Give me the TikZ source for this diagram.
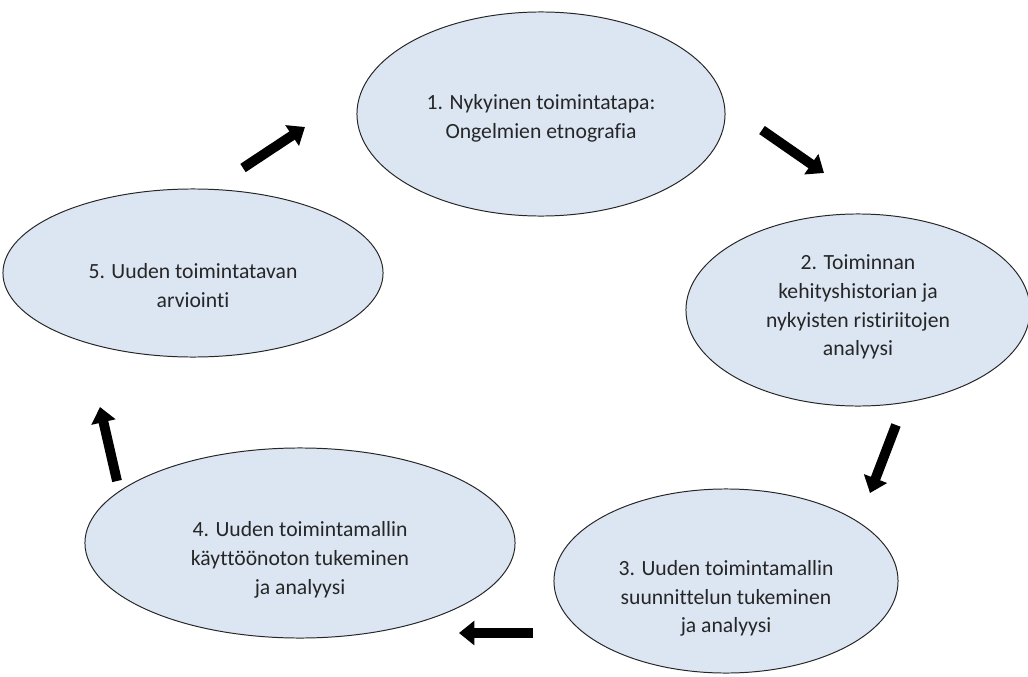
\documentclass[tikz,border=0pt]{standalone}
\usepackage{fontspec}
\setmainfont{Carlito}[Ligatures=NoCommon]
\usetikzlibrary{shapes.geometric,arrows.meta}
\definecolor{phasefill}{RGB}{220,230,243}

\begin{document}
\begin{tikzpicture}[x=0.025cm,y=-0.025cm,
    phase/.style={ellipse, draw=black!85, fill=phasefill, line width=0.7pt, inner sep=0pt},
    phasetext/.style={align=center, inner sep=0pt, text=black!85, font=\fontsize{15.4}{20.4}\selectfont},
    cyclearrow/.style={line width=7pt, -{Triangle[width=17pt,length=11pt]}}]
                \useasboundingbox (0,0) rectangle (1028,677);
                \node[phase, minimum width=9.2cm, minimum height=5.1cm] (p1) at (541,114) {};
                \node[phase, minimum width=8.6cm, minimum height=4.8cm] (p2) at (858,310) {};
                \node[phase, minimum width=8.6cm, minimum height=4.6cm] (p3) at (726,581) {};
                \node[phase, minimum width=10.75cm, minimum height=4.75cm] (p4) at (300,543) {};
                \node[phase, minimum width=9.5cm, minimum height=4.2cm] (p5) at (193,273) {};
                \node[phasetext] (t1) at ([yshift=-3pt]p1.center) {1. Nykyinen toimintatapa:\\Ongelmien etnografia};
                \node[phasetext] (t2) at ([yshift=2pt]p2.center) {2. Toiminnan\\kehityshistorian ja\\nykyisten ristiriitojen\\analyysi};
                \node[phasetext] (t3) at ([yshift=-12.5pt]p3.center) {3. Uuden toimintamallin\\suunnittelun tukeminen\\ja analyysi};
                \node[phasetext] (t4) at ([yshift=-12pt]p4.center) {4. Uuden toimintamallin\\käyttöönoton tukeminen\\ja analyysi};
                \node[phasetext] (t5) at ([yshift=-9pt]p5.center) {5. Uuden toimintatavan\\arviointi};
                % arrow ends
                \coordinate (a1s) at (243,168); \coordinate (a1e) at (305,127);
                \coordinate (a2s) at (762,130); \coordinate (a2e) at (824,173);
                \coordinate (a3s) at (896,425); \coordinate (a3e) at (870,493);
                \coordinate (a4s) at (533,633); \coordinate (a4e) at (459,633);
                \coordinate (a5s) at (117,481); \coordinate (a5e) at (100,407);
                \draw[cyclearrow] (a1s) -- (a1e);
                \draw[cyclearrow] (a2s) -- (a2e);
                \draw[cyclearrow] (a3s) -- (a3e);
                \draw[cyclearrow] (a4s) -- (a4e);
                \draw[cyclearrow] (a5s) -- (a5e);
            \end{tikzpicture}
\end{document}
